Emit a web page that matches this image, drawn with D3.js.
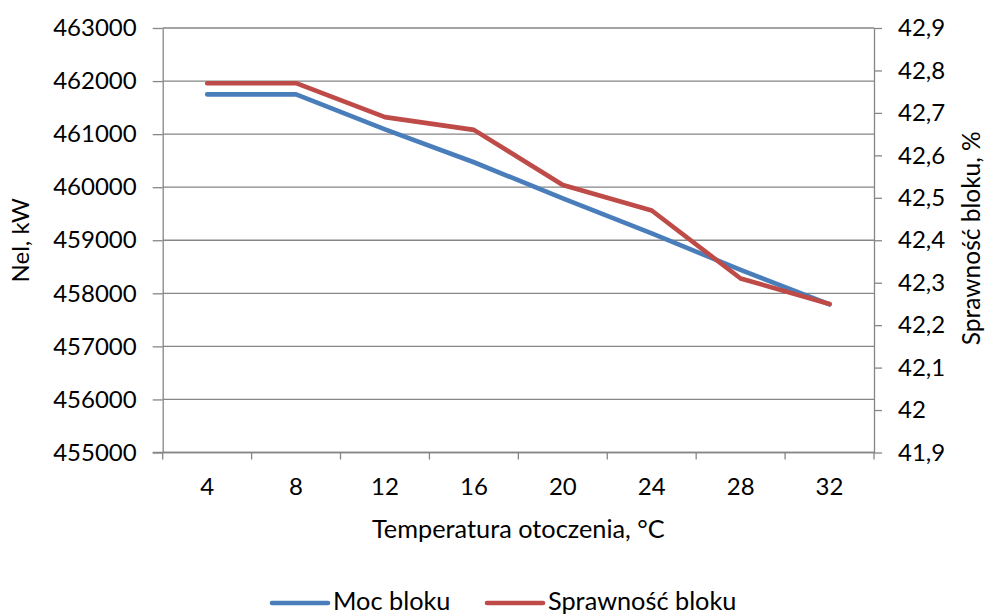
<!DOCTYPE html>
<html>
<head>
<meta charset="utf-8">
<script src="https://cdn.jsdelivr.net/npm/d3@7"></script>
<style>
  html, body { margin: 0; padding: 0; background: #fff; }
  svg { display: block; }
  text { font-family: Lato, "Open Sans", sans-serif; fill: #000; }
</style>
</head>
<body>
<svg id="chart" width="989" height="616"></svg>
<script>
// Ambient temperature, °C
const temperatures = [4, 8, 12, 16, 20, 24, 28, 32];
// Unit output Nel, kW
const mocBloku = [461750, 461750, 461090, 460470, 459790, 459130, 458440, 457790];
// Unit efficiency, %
const sprawnoscBloku = [42.77, 42.77, 42.69, 42.66, 42.53, 42.47, 42.31, 42.25];

const leftTicks = [455000, 456000, 457000, 458000, 459000, 460000, 461000, 462000, 463000];
const rightTicks = [41.9, 42.0, 42.1, 42.2, 42.3, 42.4, 42.5, 42.6, 42.7, 42.8, 42.9];

const seriesNames = ["Moc bloku", "Sprawność bloku"];
const colors = ["#4a7ebb", "#be4b48"];
const axisColor = "#868686";

const svg = d3.select("#chart");
const plot = { left: 162.7, right: 874, top: 28, bottom: 452.5 };

const x = d3.scaleBand().domain(temperatures).range([plot.left, plot.right]).padding(0);
const yL = d3.scaleLinear().domain([455000, 463000]).range([plot.bottom, plot.top]);
const yR = d3.scaleLinear().domain([41.9, 42.9]).range([plot.bottom, plot.top]);

const fmtR = v => d3.format(".1f")(v).replace(/\.0$/, "").replace(".", ",");

// horizontal gridlines on the primary scale
svg.append("g")
  .selectAll("line")
  .data(leftTicks)
  .join("line")
  .attr("x1", plot.left).attr("x2", plot.right)
  .attr("y1", d => yL(d)).attr("y2", d => yL(d))
  .attr("stroke", axisColor).attr("stroke-width", 1.3);

// left axis
const gL = svg.append("g")
  .attr("transform", `translate(${plot.left},0)`)
  .call(d3.axisLeft(yL).tickValues(leftTicks).tickFormat(d3.format("d")).tickSize(10).tickPadding(16).tickSizeOuter(0));

// right axis
const gR = svg.append("g")
  .attr("transform", `translate(${plot.right},0)`)
  .call(d3.axisRight(yR).tickValues(rightTicks).tickFormat(fmtR).tickSize(8).tickPadding(16).tickSizeOuter(0));

// bottom axis: labels at category centres
const gB = svg.append("g")
  .attr("transform", `translate(0,${plot.bottom})`)
  .call(d3.axisBottom(x).tickSize(0).tickPadding(25).tickSizeOuter(0));
gB.select(".domain").remove();

// category boundary ticks on the bottom axis
const bounds = temperatures.map(t => x(t)).concat([x(temperatures[temperatures.length - 1]) + x.bandwidth()]);
svg.append("g")
  .selectAll("line")
  .data(bounds)
  .join("line")
  .attr("x1", d => d).attr("x2", d => d)
  .attr("y1", plot.bottom).attr("y2", plot.bottom + 7)
  .attr("stroke", axisColor).attr("stroke-width", 1.3);
svg.append("line")
  .attr("x1", plot.left - 10).attr("x2", plot.right)
  .attr("y1", plot.bottom).attr("y2", plot.bottom)
  .attr("stroke", axisColor).attr("stroke-width", 1.3);

[gL, gR, gB].forEach(g => {
  g.selectAll(".domain").attr("stroke", axisColor).attr("stroke-width", 1.3);
  g.selectAll(".tick line").attr("stroke", axisColor).attr("stroke-width", 1.3);
  g.selectAll(".tick text").attr("font-size", 24).attr("fill", "#000")
    .style("font-family", "Lato, 'Open Sans', sans-serif");
});

// series lines
const lineL = d3.line().x((d, i) => x(temperatures[i]) + x.bandwidth() / 2).y(d => yL(d));
const lineR = d3.line().x((d, i) => x(temperatures[i]) + x.bandwidth() / 2).y(d => yR(d));

svg.append("path").datum(mocBloku)
  .attr("d", lineL).attr("fill", "none")
  .attr("stroke", colors[0]).attr("stroke-width", 4.6)
  .attr("stroke-linejoin", "round").attr("stroke-linecap", "round");
svg.append("path").datum(sprawnoscBloku)
  .attr("d", lineR).attr("fill", "none")
  .attr("stroke", colors[1]).attr("stroke-width", 4.6)
  .attr("stroke-linejoin", "round").attr("stroke-linecap", "round");

// axis titles
svg.append("text")
  .attr("transform", `translate(29,${(plot.top + plot.bottom) / 2}) rotate(-90)`)
  .attr("text-anchor", "middle").attr("font-size", 24)
  .text("Nel, kW");
svg.append("text")
  .attr("transform", `translate(980,${(plot.top + plot.bottom) / 2 - 2}) rotate(-90)`)
  .attr("text-anchor", "middle").attr("font-size", 24.5)
  .text("Sprawność bloku, %");
svg.append("text")
  .attr("x", (plot.left + plot.right) / 2).attr("y", 538)
  .attr("text-anchor", "middle").attr("font-size", 25.3)
  .text("Temperatura otoczenia, °C");

// legend
const legendItems = [
  { name: seriesNames[0], color: colors[0], x0: 272 },
  { name: seriesNames[1], color: colors[1], x0: 487 }
];
const lg = svg.append("g");
legendItems.forEach(it => {
  lg.append("line")
    .attr("x1", it.x0).attr("x2", it.x0 + 56)
    .attr("y1", 603).attr("y2", 603)
    .attr("stroke", it.color).attr("stroke-width", 4.6).attr("stroke-linecap", "round");
  lg.append("text")
    .attr("x", it.x0 + 61).attr("y", 610)
    .attr("font-size", 25.3)
    .text(it.name);
});
</script>
</body>
</html>
